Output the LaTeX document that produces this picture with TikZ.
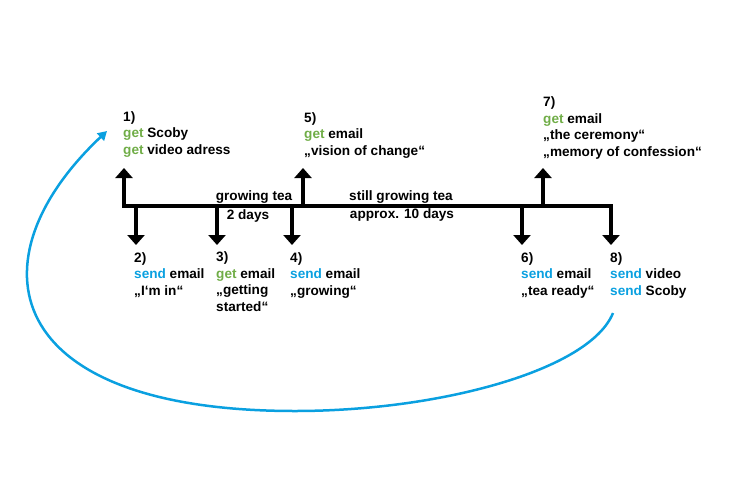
\documentclass[tikz,border=0pt]{standalone}
\usepackage{fontspec}
\setmainfont{Liberation Sans}
\usetikzlibrary{arrows.meta}

\definecolor{getgreen}{HTML}{70AD47}
\definecolor{sendblue}{HTML}{0AA0E0}
\newcommand{\getw}{\textcolor{getgreen}{get}}
\newcommand{\sendw}{\textcolor{sendblue}{send}}

\begin{document}
\begin{tikzpicture}[x=1pt, y=-1pt,
    bigtip/.tip={Triangle[width=17pt, length=10pt]},
    timeline/.style={line width=3.5pt},
    stagelabel/.style={anchor=base west, align=left, inner sep=0pt,
      font=\bfseries\fontsize{13.6}{16.5}\selectfont},
    spanlabel/.style={anchor=base, inner sep=0pt,
      font=\bfseries\fontsize{13.6}{15}\selectfont},
    loopline/.style={draw=sendblue, line width=2.5pt,
      -{Triangle[width=10pt, length=9pt]}}
  ]
  \useasboundingbox (0,0) rectangle (756,480);

  % Timeline
  \def\ty{206}
  \def\upy{168}
  \def\downy{245}
  \coordinate (t1) at (124,\ty);
  \coordinate (u1) at (124,\upy);
  \coordinate (t8) at (611,\ty);
  \coordinate (d8) at (611,\downy);
  \draw[timeline, bigtip-bigtip] (u1) -- (t1) -- (t8) -- (d8);

  % Arrows up (get)
  \foreach \n/\x in {5/303, 7/543} {
    \coordinate (t\n) at (\x,\ty);
    \coordinate (u\n) at (\x,\upy);
    \draw[timeline, -bigtip] (t\n) -- (u\n);
  }

  % Arrows down (send)
  \foreach \n/\x in {2/136, 3/217, 4/292, 6/522} {
    \coordinate (t\n) at (\x,\ty);
    \coordinate (d\n) at (\x,\downy);
    \draw[timeline, -bigtip] (t\n) -- (d\n);
  }

  % Durations
  \node[spanlabel] (grow1) at (254,200) {growing tea};
  \node[spanlabel] (days1) at (248,219) {2 days};
  \node[spanlabel] (grow2) at (401,200) {still growing tea};
  \node[spanlabel] (days2) at (402,218) {approx. 10 days};

  % Steps above the line (placed by the baseline of the last line)
  \node[stagelabel] (s1) at (123,154) {1)\\\getw{} Scoby\\\getw{} video adress};
  \node[stagelabel] (s5) at (304,155) {5)\\\getw{} email\\„vision of change“};
  \node[stagelabel] (s7) at (543,156) {7)\\\getw{} email\\„the ceremony“\\„memory of confession“};

  % Steps below the line
  \node[stagelabel] (s2) at (134,295) {2)\\\sendw{} email\\„I‘m in“};
  \node[stagelabel] (s3) at (216,311) {3)\\\getw{} email\\„getting\\started“};
  \node[stagelabel] (s4) at (290,295) {4)\\\sendw{} email\\„growing“};
  \node[stagelabel] (s6) at (521,295) {6)\\\sendw{} email\\„tea ready“};
  \node[stagelabel] (s8) at (610,295) {8)\\\sendw{} video\\\sendw{} Scoby};

  % Loop back from 8) to 1)
  \coordinate (loopstart) at (613,313);
  \coordinate (loopbottom) at (295,411);
  \coordinate (loopend) at (107,131);
  \draw[loopline] (loopstart) .. controls (590,370) and (440,411) .. (loopbottom)
    .. controls (0,411) and (-30,260) .. (loopend);
\end{tikzpicture}
\end{document}
